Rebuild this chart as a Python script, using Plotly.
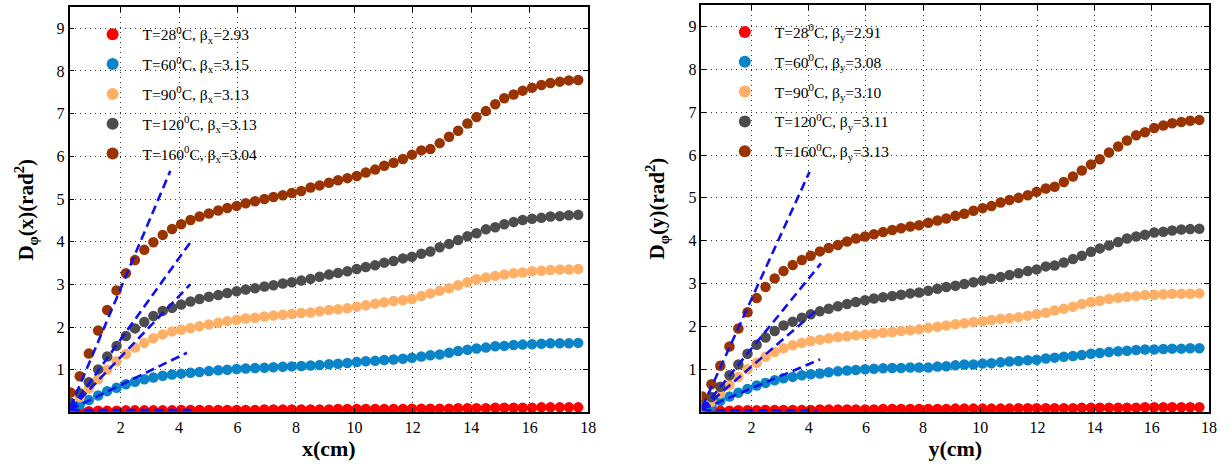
import plotly.graph_objects as go

# ---------------- data ----------------
dist = [0.28, 0.60, 0.91, 1.23, 1.54, 1.86, 2.18, 2.49, 2.81, 3.12,
        3.44, 3.76, 4.07, 4.39, 4.70, 5.02, 5.34, 5.65, 5.97, 6.28,
        6.60, 6.92, 7.23, 7.55, 7.86, 8.18, 8.50, 8.81, 9.13, 9.44,
        9.76, 10.08, 10.39, 10.71, 11.02, 11.34, 11.66, 11.97, 12.29, 12.60,
        12.92, 13.24, 13.55, 13.87, 14.18, 14.50, 14.82, 15.13, 15.45, 15.76,
        16.08, 16.40, 16.71, 17.03, 17.34, 17.66]

temps = ["28", "60", "90", "120", "160"]
beta_x = ["2.93", "3.15", "3.13", "3.13", "3.04"]
beta_y = ["2.91", "3.08", "3.10", "3.11", "3.13"]

dx_28 = [0.02, 0.03, 0.03, 0.04, 0.04, 0.04, 0.05, 0.05, 0.05, 0.05,
         0.05, 0.05, 0.06, 0.06, 0.06, 0.06, 0.06, 0.06, 0.06, 0.06,
         0.06, 0.07, 0.07, 0.07, 0.07, 0.07, 0.07, 0.07, 0.07, 0.08,
         0.08, 0.08, 0.08, 0.08, 0.08, 0.08, 0.08, 0.09, 0.09, 0.09,
         0.09, 0.09, 0.10, 0.10, 0.10, 0.10, 0.11, 0.11, 0.11, 0.11,
         0.11, 0.12, 0.12, 0.12, 0.12, 0.12]
dx_60 = [0.08, 0.18, 0.29, 0.40, 0.50, 0.58, 0.66, 0.72, 0.78, 0.82,
         0.86, 0.89, 0.91, 0.93, 0.95, 0.97, 0.99, 1.00, 1.02, 1.03,
         1.04, 1.05, 1.06, 1.07, 1.08, 1.09, 1.10, 1.11, 1.13, 1.14,
         1.16, 1.18, 1.20, 1.21, 1.23, 1.24, 1.26, 1.28, 1.31, 1.34,
         1.36, 1.40, 1.44, 1.47, 1.50, 1.52, 1.55, 1.56, 1.58, 1.59,
         1.60, 1.61, 1.62, 1.62, 1.62, 1.63]
dx_90 = [0.17, 0.36, 0.56, 0.78, 1.00, 1.20, 1.37, 1.52, 1.63, 1.74,
         1.83, 1.90, 1.94, 1.98, 2.02, 2.06, 2.10, 2.14, 2.17, 2.20,
         2.22, 2.25, 2.27, 2.29, 2.31, 2.33, 2.34, 2.37, 2.40, 2.42,
         2.44, 2.48, 2.51, 2.55, 2.58, 2.61, 2.63, 2.66, 2.73, 2.79,
         2.85, 2.91, 2.98, 3.05, 3.12, 3.16, 3.20, 3.23, 3.26, 3.28,
         3.31, 3.32, 3.34, 3.35, 3.35, 3.36]
dx_120 = [0.23, 0.45, 0.71, 1.01, 1.31, 1.56, 1.79, 1.97, 2.12, 2.26,
          2.38, 2.45, 2.53, 2.60, 2.66, 2.71, 2.75, 2.80, 2.84, 2.88,
          2.91, 2.95, 2.98, 3.02, 3.05, 3.09, 3.13, 3.18, 3.23, 3.27,
          3.31, 3.36, 3.41, 3.45, 3.51, 3.55, 3.61, 3.65, 3.72, 3.77,
          3.87, 3.95, 4.04, 4.13, 4.20, 4.29, 4.34, 4.41, 4.46, 4.51,
          4.54, 4.56, 4.59, 4.60, 4.62, 4.63]
dx_160 = [0.47, 0.85, 1.38, 1.92, 2.40, 2.86, 3.26, 3.57, 3.81, 3.99,
          4.16, 4.30, 4.41, 4.51, 4.59, 4.66, 4.73, 4.79, 4.84, 4.90,
          4.95, 5.00, 5.05, 5.09, 5.14, 5.19, 5.27, 5.32, 5.38, 5.44,
          5.49, 5.54, 5.62, 5.69, 5.78, 5.85, 5.94, 6.04, 6.14, 6.17,
          6.31, 6.46, 6.60, 6.77, 6.92, 7.06, 7.22, 7.36, 7.45, 7.54,
          7.61, 7.67, 7.72, 7.75, 7.78, 7.79]

dy_28 = [0.02, 0.03, 0.03, 0.03, 0.04, 0.04, 0.04, 0.05, 0.05, 0.05,
         0.05, 0.05, 0.05, 0.06, 0.06, 0.06, 0.06, 0.06, 0.06, 0.06,
         0.07, 0.07, 0.07, 0.07, 0.07, 0.07, 0.07, 0.07, 0.08, 0.08,
         0.08, 0.08, 0.08, 0.08, 0.08, 0.09, 0.09, 0.09, 0.09, 0.09,
         0.09, 0.09, 0.10, 0.10, 0.10, 0.10, 0.10, 0.10, 0.10, 0.11,
         0.11, 0.11, 0.11, 0.11, 0.11, 0.11]
dy_60 = [0.07, 0.14, 0.26, 0.36, 0.45, 0.54, 0.62, 0.68, 0.74, 0.79,
         0.82, 0.86, 0.88, 0.90, 0.93, 0.95, 0.97, 0.98, 1.00, 1.01,
         1.02, 1.03, 1.03, 1.04, 1.04, 1.04, 1.06, 1.07, 1.09, 1.11,
         1.11, 1.13, 1.14, 1.16, 1.18, 1.19, 1.21, 1.22, 1.25, 1.27,
         1.29, 1.31, 1.33, 1.36, 1.38, 1.40, 1.42, 1.43, 1.45, 1.46,
         1.46, 1.47, 1.48, 1.48, 1.49, 1.49]
dy_90 = [0.11, 0.24, 0.44, 0.63, 0.82, 1.00, 1.15, 1.29, 1.40, 1.49,
         1.56, 1.61, 1.66, 1.69, 1.72, 1.75, 1.77, 1.79, 1.81, 1.83,
         1.85, 1.87, 1.89, 1.91, 1.93, 1.97, 1.99, 2.02, 2.05, 2.07,
         2.10, 2.12, 2.15, 2.17, 2.19, 2.21, 2.25, 2.29, 2.32, 2.37,
         2.41, 2.46, 2.52, 2.57, 2.60, 2.64, 2.67, 2.69, 2.71, 2.73,
         2.74, 2.75, 2.76, 2.76, 2.76, 2.77]
dy_120 = [0.16, 0.35, 0.59, 0.86, 1.11, 1.36, 1.57, 1.74, 1.89, 2.02,
          2.11, 2.20, 2.28, 2.35, 2.41, 2.47, 2.52, 2.57, 2.61, 2.65,
          2.68, 2.71, 2.74, 2.77, 2.79, 2.83, 2.88, 2.92, 2.95, 2.99,
          3.03, 3.07, 3.11, 3.15, 3.20, 3.24, 3.29, 3.33, 3.40, 3.42,
          3.49, 3.57, 3.65, 3.74, 3.82, 3.89, 3.97, 4.05, 4.10, 4.14,
          4.19, 4.21, 4.24, 4.26, 4.27, 4.28]
dy_160 = [0.36, 0.65, 1.08, 1.53, 1.95, 2.33, 2.66, 2.92, 3.12, 3.29,
          3.43, 3.55, 3.65, 3.75, 3.83, 3.90, 3.98, 4.05, 4.10, 4.15,
          4.20, 4.25, 4.29, 4.33, 4.36, 4.42, 4.47, 4.52, 4.58, 4.63,
          4.70, 4.76, 4.81, 4.89, 4.95, 5.00, 5.06, 5.14, 5.22, 5.26,
          5.37, 5.50, 5.64, 5.78, 5.90, 6.06, 6.20, 6.34, 6.46, 6.53,
          6.63, 6.69, 6.74, 6.77, 6.80, 6.82]

# dashed fit lines: [x_start, x_end], [y_start, y_end]
fit_x_left = [[0.28, 4.42], [0.28, 4.27], [0.28, 4.38], [0.28, 4.42], [0.28, 3.70]]
fit_y_left = [[0.06, 0.06], [0.07, 1.40], [0.07, 3.00], [0.07, 4.02], [0.12, 5.66]]
fit_x_right = [[0.28, 4.30], [0.28, 4.40], [0.28, 4.32], [0.28, 4.43], [0.28, 4.03]]
fit_y_right = [[0.04, 0.04], [0.07, 1.23], [0.07, 2.40], [0.07, 3.47], [0.12, 5.61]]

colors = ["#ff0000", "#0a84c8", "#ffb066", "#4d4d4d", "#993300"]
dash_color = "#1010f0"

x_ticks = [2, 4, 6, 8, 10, 12, 14, 16, 18]
y_ticks = [1, 2, 3, 4, 5, 6, 7, 8, 9]

# ---------------- figure ----------------
FONT = "Liberation Serif, Times New Roman, serif"
fig = go.Figure()

left_series = [dx_28, dx_60, dx_90, dx_120, dx_160]
right_series = [dy_28, dy_60, dy_90, dy_120, dy_160]

for k in range(5):
    fig.add_trace(go.Scatter(
        x=dist, y=left_series[k], mode="markers",
        marker=dict(color=colors[k], size=10.5, line=dict(width=0)),
        name=f"T={temps[k]}<sup>0</sup>C, β<sub>x</sub>={beta_x[k]}",
        legend="legend", legendgroup=f"l{k}",
        xaxis="x", yaxis="y"))
for k in range(5):
    fig.add_trace(go.Scatter(
        x=dist, y=right_series[k], mode="markers",
        marker=dict(color=colors[k], size=10.5, line=dict(width=0)),
        name=f"T={temps[k]}<sup>0</sup>C, β<sub>y</sub>={beta_y[k]}",
        legend="legend2", legendgroup=f"r{k}",
        xaxis="x2", yaxis="y2"))

for k in range(5):
    fig.add_trace(go.Scatter(
        x=fit_x_left[k], y=fit_y_left[k], mode="lines",
        line=dict(color=dash_color, width=2.6, dash="9px,5px"),
        showlegend=False, hoverinfo="skip", xaxis="x", yaxis="y"))
    fig.add_trace(go.Scatter(
        x=fit_x_right[k], y=fit_y_right[k], mode="lines",
        line=dict(color=dash_color, width=2.6, dash="9px,5px"),
        showlegend=False, hoverinfo="skip", xaxis="x2", yaxis="y2"))

axis_common = dict(
    showline=True, linecolor="black", linewidth=1.5, mirror="allticks",
    ticks="inside", ticklen=5, tickwidth=1, tickcolor="black",
    showgrid=True, gridcolor="#333333", gridwidth=1, griddash="1px,4px",
    zeroline=False, tickfont=dict(family=FONT, size=16, color="black"),
)

xtitle_font = dict(family=FONT, size=22, color="black")
ytitle_font = dict(family=FONT, size=21, color="black")

fig.update_layout(
    width=1232, height=464,
    margin=dict(l=0, r=0, t=0, b=0),
    paper_bgcolor="white", plot_bgcolor="white",
    font=dict(family=FONT, color="black"),
    xaxis=dict(domain=[0.0568, 0.4805], range=[0.25, 18], tickvals=x_ticks,
               anchor="y", title=dict(text="<b>x(cm)</b>", font=xtitle_font, standoff=4),
               **axis_common),
    yaxis=dict(domain=[0.111, 0.985], range=[0, 9.5], tickvals=y_ticks,
               anchor="x", title=dict(text="<b>D<sub>φ</sub>(x)(rad<sup>2</sup>)</b>",
                                      font=ytitle_font, standoff=17),
               **axis_common),
    xaxis2=dict(domain=[0.5731, 0.9878], range=[0.25, 18], tickvals=x_ticks,
                anchor="y2", title=dict(text="<b>y(cm)</b>", font=xtitle_font, standoff=4),
                **axis_common),
    yaxis2=dict(domain=[0.112, 0.989], range=[0, 9.5], tickvals=y_ticks,
                anchor="x2", title=dict(text="<b>D<sub>φ</sub>(y)(rad<sup>2</sup>)</b>",
                                        font=ytitle_font, standoff=18),
                **axis_common),
    legend=dict(x=0.0675, y=0.962, xanchor="left", yanchor="top",
                bgcolor="rgba(0,0,0,0)", borderwidth=0,
                font=dict(family=FONT, size=15.5, color="black"),
                itemwidth=50, tracegroupgap=6.7, itemsizing="constant"),
    legend2=dict(x=0.584, y=0.967, xanchor="left", yanchor="top",
                 bgcolor="rgba(0,0,0,0)", borderwidth=0,
                 font=dict(family=FONT, size=15.5, color="black"),
                 itemwidth=50, tracegroupgap=6.7, itemsizing="constant"),
    showlegend=True,
)

fig.write_html("out.html")
